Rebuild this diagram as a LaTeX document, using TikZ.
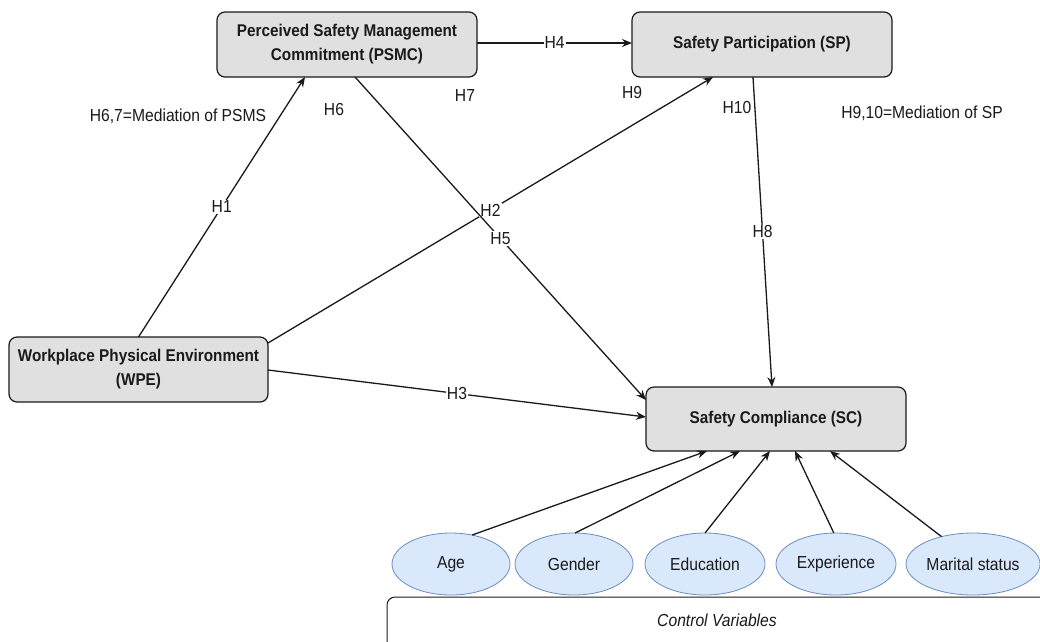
\documentclass[tikz,border=0pt]{standalone}
\usepackage{fontspec}
\setmainfont{Liberation Sans}[FakeStretch=0.9]
\usetikzlibrary{arrows.meta,calc,shapes.geometric}
\definecolor{boxfill}{HTML}{E0E0E0}
\definecolor{ellfill}{HTML}{DAE8FC}
\definecolor{ellline}{HTML}{6C8EBF}
\definecolor{ink}{HTML}{1A1A1A}

\begin{document}
\begin{tikzpicture}[x=1pt,y=-1pt,
  construct/.style={draw=ink, line width=1.2pt, fill=boxfill, rounded corners=8pt,
    minimum width=260pt, minimum height=65pt, inner sep=0pt, outer sep=0pt,
    align=center, font=\bfseries\fontsize{17}{24}\selectfont, text=ink},
  control/.style={ellipse, draw=ellline, line width=0.8pt, fill=ellfill,
    minimum height=62pt, inner sep=0pt, outer sep=0pt,
    font=\fontsize{17.4}{20}\selectfont, text=ink},
  link/.style={draw=ink, line width=1.3pt, -{Stealth[length=10pt,width=8pt]}},
  hyp/.style={fill=white, inner sep=1pt, font=\fontsize{17.4}{20}\selectfont, text=ink},
  note/.style={inner sep=0pt, font=\fontsize{17.4}{20}\selectfont, text=ink}]

\useasboundingbox (0,0) rectangle (1040,641);
\fill[white] (0,0) rectangle (1040,641);

% constructs
\node[construct] (psmc) at (347,44.5) {Perceived Safety Management\\Commitment (PSMC)};
\node[construct] (sp)   at (762,44.5) {Safety Participation (SP)};
\node[construct, minimum width=259pt] (wpe) at (138.5,369.5) {Workplace Physical Environment\\(WPE)};
\node[construct, minimum height=64pt] (sc) at (776,419) {Safety Compliance (SC)};

% control variables
\node[control, minimum width=118pt] (age) at (451,564) {Age};
\node[control, minimum width=118pt] (gen) at (574,564) {Gender};
\node[control, minimum width=120pt] (edu) at (705,564) {Education};
\node[control, minimum width=120pt] (exp) at (836,564) {Experience};
\node[control, minimum width=134pt] (mar) at (973,564) {Marital status};

\begin{scope}
  \clip (0,0) rectangle (1040,641);
  \draw[draw=ink, line width=1pt, rounded corners=8pt] (1060,597) -- (387,597) -- (387,660);
\end{scope}
\node[note, font=\itshape\fontsize{17.4}{20}\selectfont] (ctl) at (717,620) {Control Variables};

% hypothesised paths
\draw[link] (wpe.north) -- node[hyp] {H1} ([xshift=-42pt]psmc.south);
\draw[link] ([yshift=26.5pt]wpe.east) -- node[hyp] {H2} ([xshift=-49pt]sp.south);
\draw[link] ([yshift=-0.5pt]wpe.east) -- node[hyp] {H3} ([yshift=2pt]sc.west);
\draw[link] ([yshift=1.5pt]psmc.east) -- node[hyp] {H4} ([yshift=1.5pt]sp.west);
\draw[link] ([xshift=8pt]psmc.south) -- node[hyp] {H5} ([yshift=19pt]sc.west);
\draw[link] ([xshift=-9pt]sp.south) -- node[hyp] {H8} ([xshift=-4pt]sc.north);

% control paths
\draw[link] (age.54)  -- ([xshift=-69pt]sc.south);
\draw[link] (gen.88)  -- ([xshift=-36pt]sc.south);
\draw[link] (edu.90)  -- ([xshift=-6pt]sc.south);
\draw[link] (exp.94)  -- ([xshift=19pt]sc.south);
\draw[link] (mar.139) -- ([xshift=54pt]sc.south);

% mediation notes
\node[note] (h6)  at (334,110) {H6};
\node[note] (h7)  at (465,96)  {H7};
\node[note] (h9)  at (632,93)  {H9};
\node[note] (h10) at (737,108) {H10};
\node[note] (m67) at (178,116) {H6,7=Mediation of PSMS};
\node[note] (m910) at (922,113) {H9,10=Mediation of SP};
\end{tikzpicture}
\end{document}
